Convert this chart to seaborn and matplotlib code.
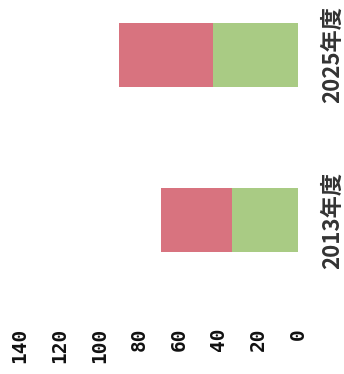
import matplotlib
matplotlib.use("Agg")
import matplotlib.pyplot as plt
import seaborn as sns
import pandas as pd

categories = ["2025年度", "2013年度"]
green_values = [43, 33]
red_values = [47, 36]
xticks = [0, 20, 40, 60, 80, 100, 120, 140]

sns.set_theme(style="white")
plt.rcParams["font.family"] = ["Noto Sans CJK JP", "DejaVu Sans"]

totals = [g + r for g, r in zip(green_values, red_values)]
df = pd.DataFrame({"cat": categories, "green": green_values, "total": totals})

fig = plt.figure(figsize=(3.44, 3.74), dpi=100)
ax = fig.add_axes([0, 74 / 374, 300 / 344, 300 / 374])

sns.barplot(data=df, x="total", y="cat", orient="h", color="#d8737f",
            width=0.39, saturation=1, linewidth=0, ax=ax)
sns.barplot(data=df, x="green", y="cat", orient="h", color="#a9cb84",
            width=0.39, saturation=1, linewidth=0, ax=ax)

ax.set_xlim(150, -1)
ax.set_ylim(1.485, -0.333)
ax.set_xticks(xticks)
ax.set_xticklabels([str(v) for v in xticks], rotation=90,
                   fontfamily="DejaVu Sans Mono", fontweight="bold",
                   fontsize=14, color="#111111")
ax.yaxis.tick_right()
ax.set_yticks(range(len(categories)))
ax.set_yticklabels(categories, rotation=90, fontweight="bold",
                   fontsize=16, color="#333333", va="center")
ax.tick_params(axis="x", length=0, pad=20)
ax.tick_params(axis="y", length=0, pad=15)
ax.set_xlabel("")
ax.set_ylabel("")
for s in ax.spines.values():
    s.set_visible(False)

fig.savefig("out.png", dpi=100)
